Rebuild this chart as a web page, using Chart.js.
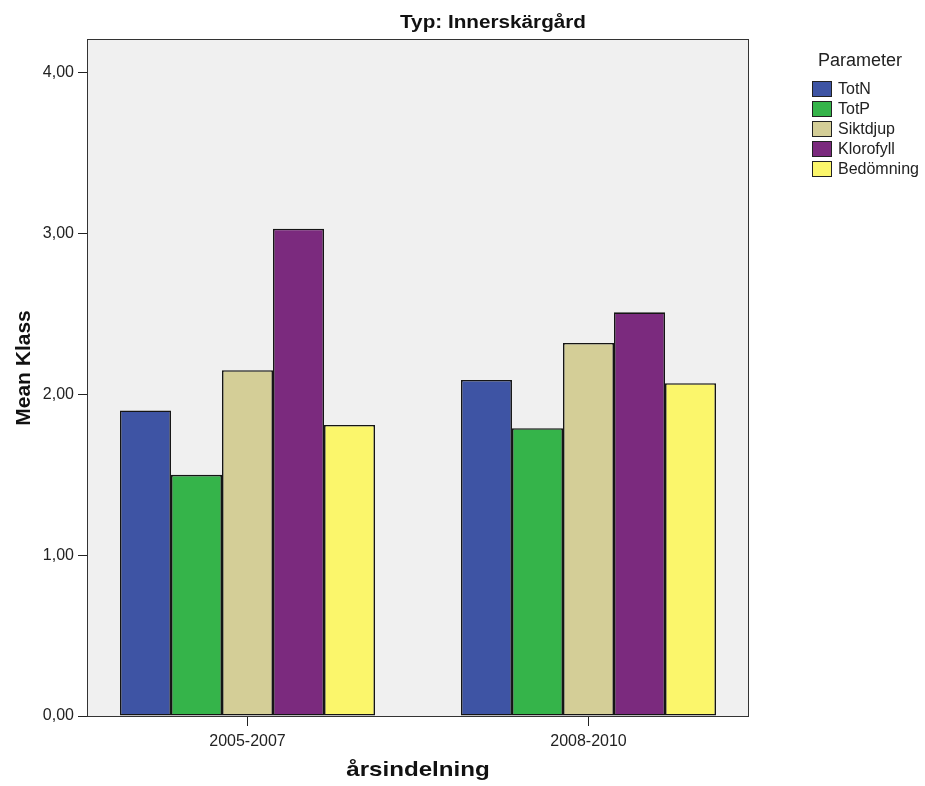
<!DOCTYPE html>
<html>
<head>
<meta charset="utf-8">
<script src="https://cdn.jsdelivr.net/npm/chart.js@4"></script>
<style>
  body { margin: 0; background: #fff; }
  #wrap { position: relative; width: 925px; height: 786px; }
  #legend { position: absolute; left: 812px; top: 50px; font-family: "Liberation Sans", Arial, sans-serif; color: #222; }
  #legend .head { font-size: 18px; margin-left: 6px; margin-bottom: 8px; }
  #legend .row { height: 20px; display: flex; align-items: center; font-size: 16px; }
  #legend .box { width: 18px; height: 14px; border: 1px solid #222; margin-right: 6px; }
</style>
</head>
<body>
<div id="wrap">
  <canvas id="myChart" width="925" height="786"></canvas>
  <div id="legend"></div>
</div>
<script>
const categories = ['2005-2007', '2008-2010'];
const seriesNames = ['TotN', 'TotP', 'Siktdjup', 'Klorofyll', 'Bedömning'];
const totN = [1.90, 2.09];
const totP = [1.50, 1.79];
const siktdjup = [2.15, 2.32];
const klorofyll = [3.03, 2.51];
const bedomning = [1.81, 2.07];
const yTicks = [0, 1, 2, 3, 4];
const colors = ['#3e54a4', '#35b44a', '#d4ce97', '#7b2a7e', '#fbf66b'];

const seriesValues = [totN, totP, siktdjup, klorofyll, bedomning];

// legend on the right
const legend = document.getElementById('legend');
legend.innerHTML = '<div class="head">Parameter</div>' + seriesNames.map((n, i) =>
  '<div class="row"><div class="box" style="background:' + colors[i] + '"></div>' + n + '</div>').join('');

const frame = {
  id: 'frame',
  beforeDraw(chart) {
    const c = chart.ctx, a = chart.chartArea;
    c.save();
    c.fillStyle = '#fff';
    c.fillRect(0, 0, chart.width, chart.height);
    c.fillStyle = '#f0f0f0';
    c.fillRect(a.left, a.top, a.right - a.left, a.bottom - a.top);
    c.restore();
  },
  afterDraw(chart) {
    const c = chart.ctx, a = chart.chartArea;
    c.save();
    c.strokeStyle = '#333';
    c.lineWidth = 1;
    c.strokeRect(a.left + 0.5, a.top + 0.5, a.right - a.left - 1, a.bottom - a.top);
    c.fillStyle = '#111';
    c.textAlign = 'center';
    c.textBaseline = 'middle';
    // chart title
    c.save();
    c.translate(493, 23);
    c.scale(1.15, 1);
    c.font = 'bold 18px "Liberation Sans", Arial, sans-serif';
    c.fillText('Typ: Innerskärgård', 0, 0);
    c.restore();
    // x axis title
    c.save();
    c.translate(418, 770);
    c.scale(1.15, 1);
    c.font = 'bold 21px "Liberation Sans", Arial, sans-serif';
    c.fillText('årsindelning', 0, 0);
    c.restore();
    // y axis title
    c.save();
    c.translate(24, 368);
    c.rotate(-Math.PI / 2);
    c.font = 'bold 21px "Liberation Sans", Arial, sans-serif';
    c.fillText('Mean Klass', 0, 0);
    c.restore();
    c.restore();
  }
};

new Chart(document.getElementById('myChart').getContext('2d'), {
  type: 'bar',
  data: {
    datasets: seriesNames.map((n, i) => ({
      label: n,
      data: seriesValues[i].map((v, k) => ({ x: k, y: v })),
      backgroundColor: colors[i],
      borderColor: '#151515',
      borderWidth: 1.6,
      borderSkipped: false,
      categoryPercentage: 0.748,
      barPercentage: 1
    }))
  },
  options: {
    responsive: false,
    animation: false,
    devicePixelRatio: 1,
    layout: { padding: { top: 39, right: 176, bottom: 0, left: 0 } },
    plugins: { legend: { display: false }, title: { display: false }, tooltip: { enabled: false } },
    scales: {
      x: {
        type: 'linear',
        min: -0.4707,
        max: 1.4707,
        offset: false,
        afterFit: s => { s.height = 70; },
        afterBuildTicks: s => { s.ticks = categories.map((c, k) => ({ value: k })); },
        grid: { offset: false, drawOnChartArea: false, drawTicks: true, tickLength: 10, color: '#222' },
        border: { display: false },
        ticks: {
          color: '#222', padding: 6, font: { family: '"Liberation Sans", Arial, sans-serif', size: 16 },
          callback: v => categories[v]
        }
      },
      y: {
        min: 0,
        max: 4.21,
        afterFit: s => { s.width = 87; },
        afterBuildTicks: s => { s.ticks = yTicks.map(v => ({ value: v })); },
        grid: { drawOnChartArea: false, drawTicks: true, tickLength: 9, color: '#222' },
        border: { display: false },
        ticks: {
          color: '#222',
          padding: 4,
          font: { family: '"Liberation Sans", Arial, sans-serif', size: 16 },
          callback: v => v.toFixed(2).replace('.', ',')
        }
      }
    }
  },
  plugins: [frame]
});
</script>
</body>
</html>
